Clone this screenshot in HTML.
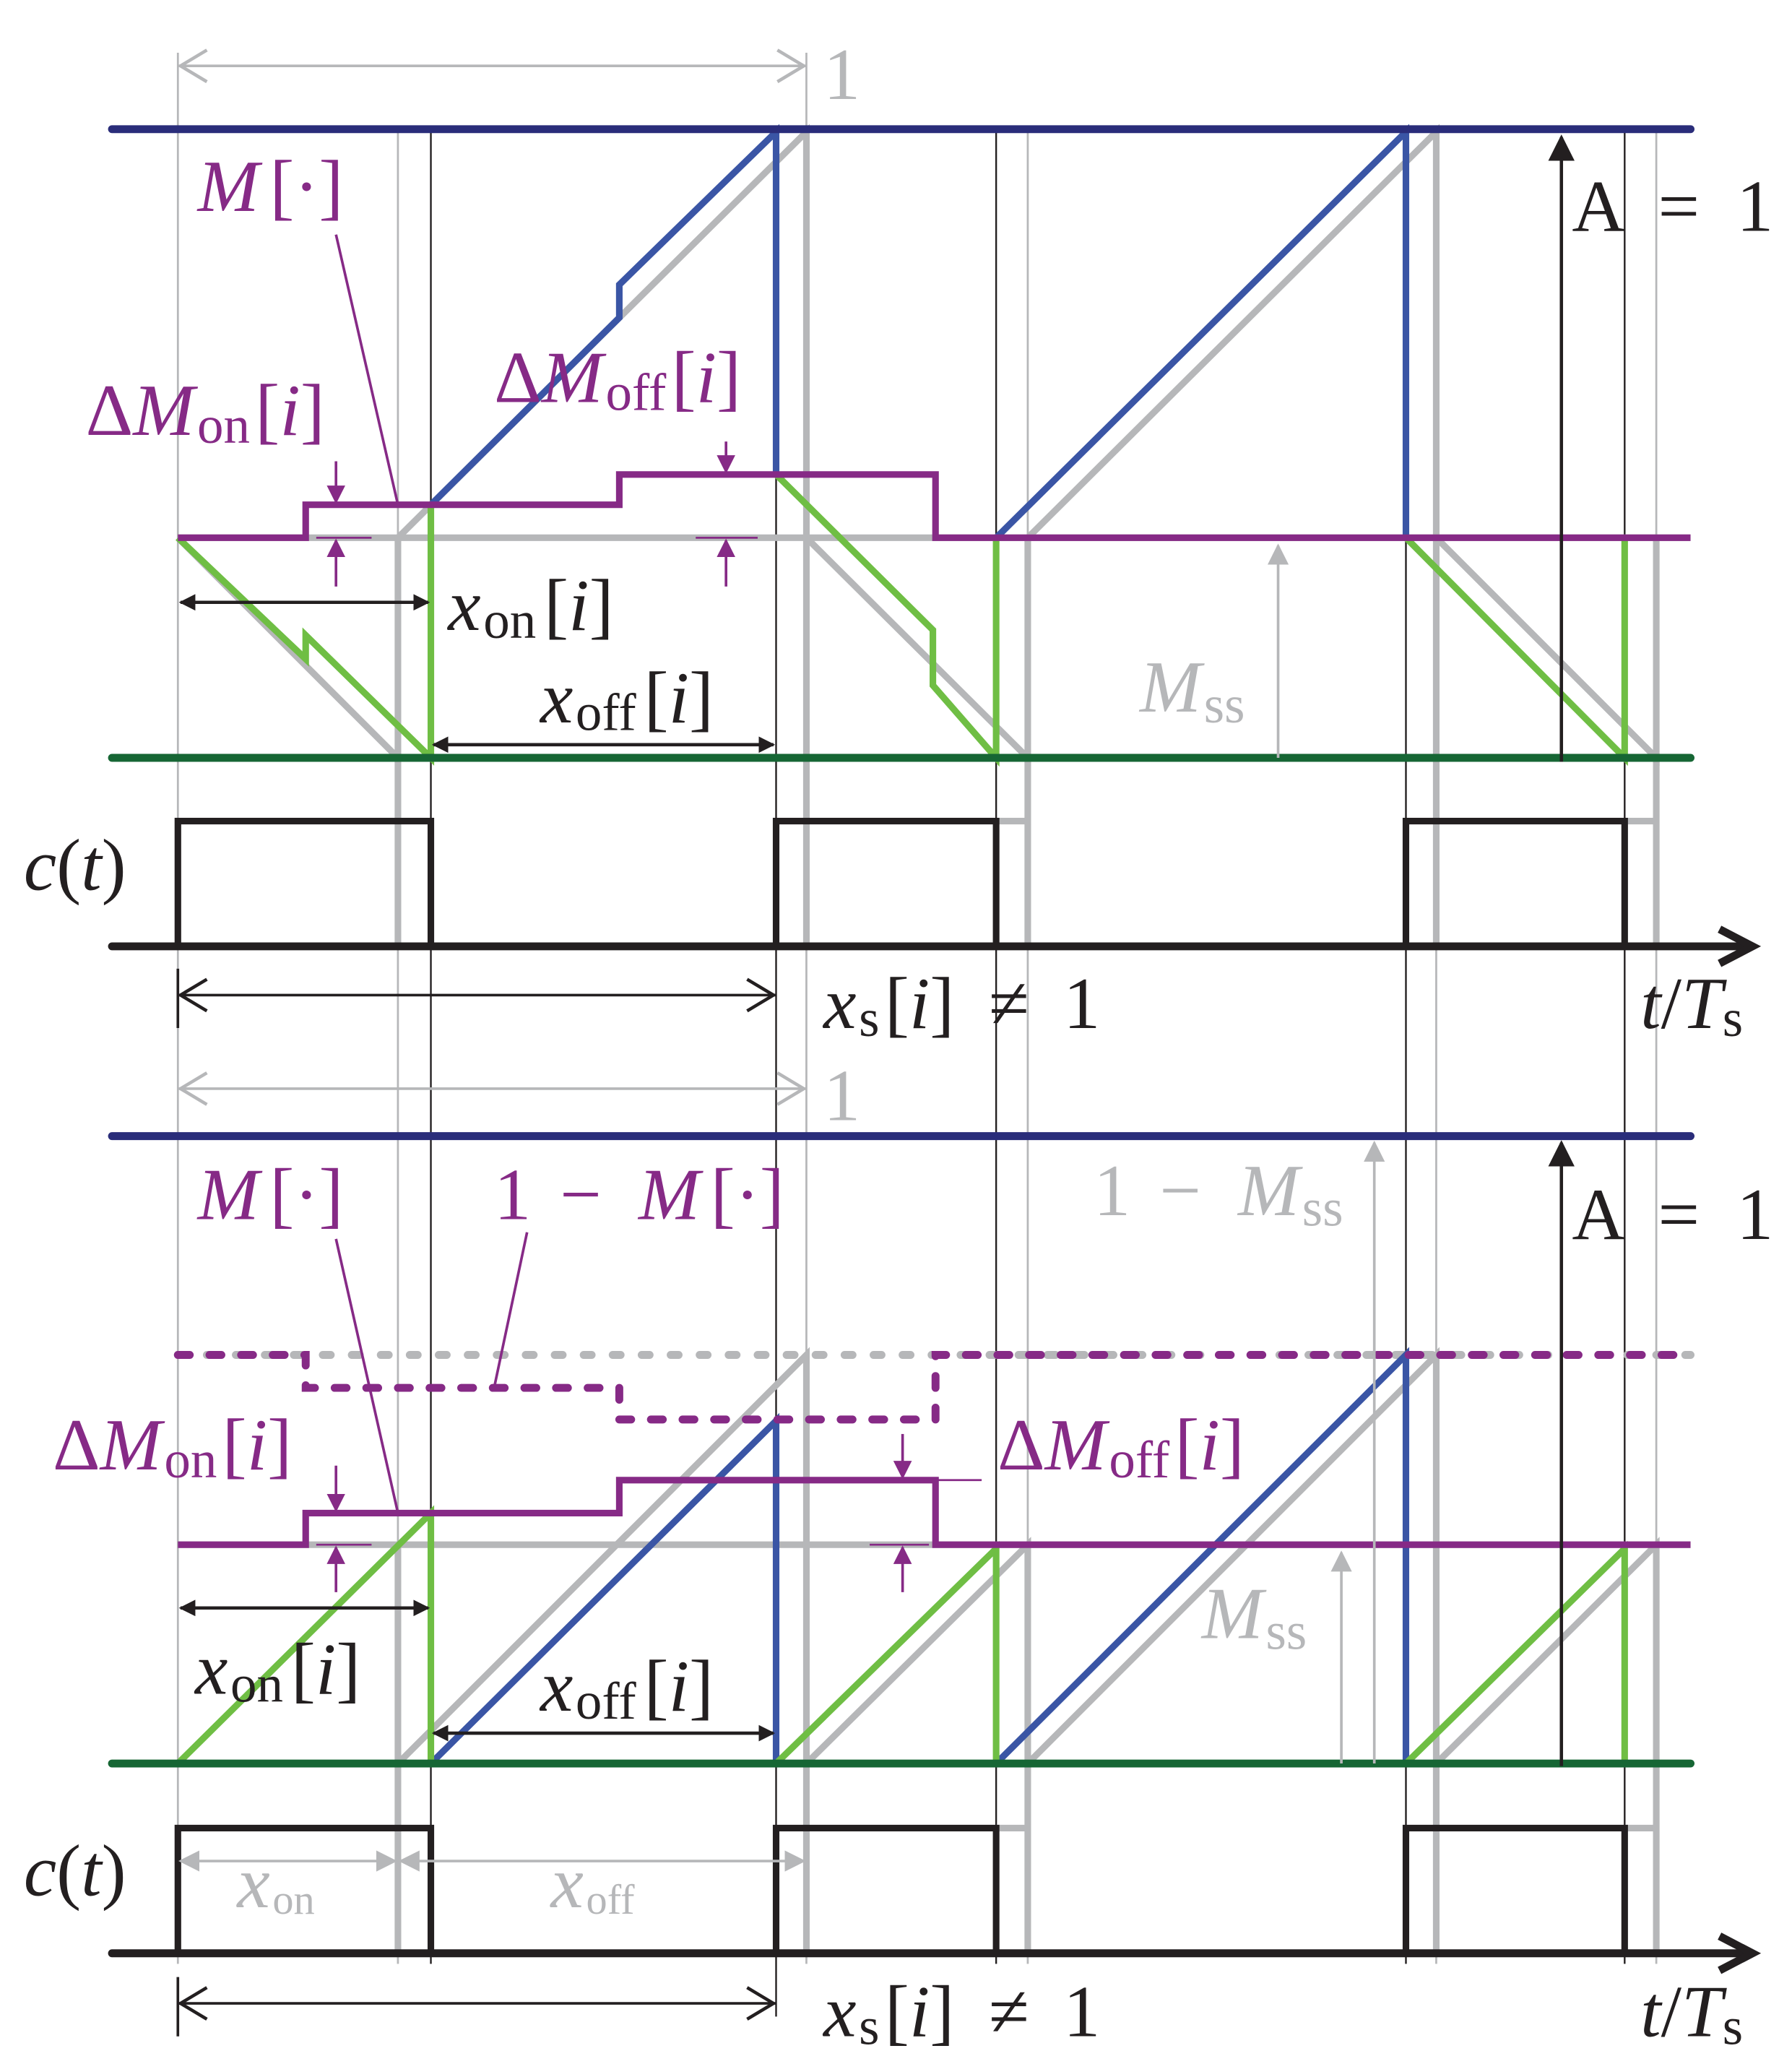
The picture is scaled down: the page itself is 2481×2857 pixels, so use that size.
<!DOCTYPE html>
<html><head><meta charset="utf-8"><style>
html,body{margin:0;padding:0;background:#fff}
svg{display:block}
text{font-family:"Liberation Serif",serif;font-size:56px}
.i{font-style:italic}
</style></head><body>
<svg width="2481" height="2857" viewBox="0 0 1360 1566" preserveAspectRatio="none" xmlns="http://www.w3.org/2000/svg">
<defs>
<marker id="ab" viewBox="0 0 10 10" refX="9" refY="5" markerWidth="5" markerHeight="5" orient="auto-start-reverse"><path d="M0,0 L10,5 L0,10 z" fill="#231f20"/></marker>
<marker id="ap" viewBox="0 0 10 10" refX="9" refY="5" markerWidth="7" markerHeight="7" orient="auto-start-reverse"><path d="M0,0 L10,5 L0,10 z" fill="#862a86"/></marker>
<marker id="ag" viewBox="0 0 10 10" refX="9" refY="5" markerWidth="8" markerHeight="8" orient="auto-start-reverse"><path d="M0,0 L10,5 L0,10 z" fill="#b6b7b9"/></marker>
<marker id="ak" viewBox="0 0 10 10" refX="9" refY="5" markerWidth="8" markerHeight="8" orient="auto-start-reverse"><path d="M0,0 L10,5 L0,10 z" fill="#231f20"/></marker>
</defs>
<g fill="none" stroke-linecap="butt">
<g stroke="#b6b7b9" stroke-width="1.5">
<line x1="135" y1="40" x2="135" y2="1490"/><line x1="302" y1="98" x2="302" y2="1490"/><line x1="612" y1="40" x2="612" y2="1490"/>
<line x1="780" y1="98" x2="780" y2="1490"/><line x1="1090" y1="98" x2="1090" y2="1490"/><line x1="1257" y1="98" x2="1257" y2="1490"/>
</g>
<g stroke="#231f20" stroke-width="1.3">
<line x1="327" y1="98" x2="327" y2="1490"/><line x1="589" y1="98" x2="589" y2="1530"/><line x1="756" y1="98" x2="756" y2="1490"/>
<line x1="1067" y1="98" x2="1067" y2="1490"/><line x1="1233" y1="98" x2="1233" y2="1490"/>
</g>

<line x1="135" y1="50" x2="612" y2="50" stroke="#b6b7b9" stroke-width="2"/>
<path d="M157,38 L137,50 L157,62 M590,38 L610,50 L590,62" stroke="#b6b7b9" stroke-width="2.5"/>
<g stroke="#b6b7b9" stroke-width="5">
<path d="M135,408 L1283,408"/>
<path d="M135,408 L302,575 M302,575 L302,408 L612,100 L612,718 M612,408 L780,575 L780,408 L1090,100 L1090,718 M1090,408 L1257,575 L1257,408"/>
<path d="M302,575 L302,718 M780,575 L780,718 M1257,575 L1257,718 M756,623 L780,623 M1233,623 L1257,623"/>
</g>
<g stroke="#3a55a5" stroke-width="5">
<path d="M327,383 L470,241 L470,216 L589,100 L589,360"/>
<path d="M756,408 L1067,100 L1067,408"/>
</g>
<g stroke="#6fbe44" stroke-width="5">
<path d="M135,408 L232,500 L232,482 L327,575 L327,383"/>
<path d="M589,360 L708,478 L708,520 L756,575 L756,408"/>
<path d="M1067,408 L1233,575 L1233,408"/>
</g>
<path d="M135,408 L232,408 L232,383 L470,383 L470,360 L710,360 L710,408 L1283,408" stroke="#862a86" stroke-width="5"/>
<line x1="85" y1="98" x2="1283" y2="98" stroke="#2a2d7a" stroke-width="6" stroke-linecap="round"/>
<line x1="85" y1="575" x2="1283" y2="575" stroke="#166634" stroke-width="6" stroke-linecap="round"/>
<path d="M135,718 L135,623 L327,623 L327,718 M589,718 L589,623 L756,623 L756,718 M1067,718 L1067,623 L1233,623 L1233,718" stroke="#231f20" stroke-width="5"/>
<line x1="85" y1="718" x2="1325" y2="718" stroke="#231f20" stroke-width="6" stroke-linecap="round"/>
<path d="M1305,705 L1330,718 L1305,731" stroke="#231f20" stroke-width="6"/>
<line x1="255" y1="178" x2="302" y2="383" stroke="#862a86" stroke-width="2"/>
<line x1="255" y1="350" x2="255" y2="381" stroke="#862a86" stroke-width="2" marker-end="url(#ap)"/>
<line x1="255" y1="445" x2="255" y2="410" stroke="#862a86" stroke-width="2" marker-end="url(#ap)"/>
<line x1="240" y1="408" x2="282" y2="408" stroke="#862a86" stroke-width="1.5"/>
<line x1="551" y1="335" x2="551" y2="358" stroke="#862a86" stroke-width="2" marker-end="url(#ap)"/>
<line x1="551" y1="445" x2="551" y2="410" stroke="#862a86" stroke-width="2" marker-end="url(#ap)"/>
<line x1="528" y1="408" x2="575" y2="408" stroke="#862a86" stroke-width="1.5"/>
<line x1="137" y1="457" x2="325" y2="457" stroke="#231f20" stroke-width="2.5" marker-start="url(#ab)" marker-end="url(#ab)"/>
<line x1="329" y1="565" x2="587" y2="565" stroke="#231f20" stroke-width="2.5" marker-start="url(#ab)" marker-end="url(#ab)"/>
<line x1="970" y1="575" x2="970" y2="414" stroke="#b6b7b9" stroke-width="2" marker-end="url(#ag)"/>
<line x1="1185" y1="578" x2="1185" y2="104" stroke="#231f20" stroke-width="2.5" marker-end="url(#ak)"/>
<line x1="135" y1="735" x2="135" y2="780" stroke="#231f20" stroke-width="2"/>
<line x1="135" y1="755" x2="589" y2="755" stroke="#231f20" stroke-width="2"/>
<path d="M157,743 L137,755 L157,767 M567,743 L587,755 L567,767" stroke="#231f20" stroke-width="2.5"/>

<line x1="135" y1="826" x2="612" y2="826" stroke="#b6b7b9" stroke-width="2"/>
<path d="M157,814 L137,826 L157,838 M590,814 L610,826 L590,838" stroke="#b6b7b9" stroke-width="2.5"/>
<g stroke="#b6b7b9" stroke-width="5">
<path d="M135,1172 L1283,1172"/>
<path d="M135,1028 L1283,1028" stroke-width="6" stroke-dasharray="6 16" stroke-linecap="round"/>
<path d="M302,1172 L302,1482 M302,1338 L612,1028 L612,1482 M612,1338 L780,1172 L780,1482 M780,1338 L1090,1028 L1090,1482 M1090,1338 L1257,1172 L1257,1482 M756,1387 L780,1387 M1233,1387 L1257,1387"/>
</g>
<g stroke="#3a55a5" stroke-width="5">
<path d="M327,1338 L589,1078 L589,1338"/>
<path d="M756,1338 L1067,1028 L1067,1338"/>
</g>
<g stroke="#6fbe44" stroke-width="5">
<path d="M135,1338 L327,1148 L327,1338"/>
<path d="M589,1338 L756,1175 L756,1338"/>
<path d="M1067,1338 L1233,1175 L1233,1338"/>
</g>
<path d="M135,1172 L232,1172 L232,1148 L470,1148 L470,1123 L710,1123 L710,1172 L1283,1172" stroke="#862a86" stroke-width="5"/>
<path d="M135,1028 L232,1028 L232,1053 L470,1053 L470,1077 L710,1077 L710,1028 L1283,1028" stroke="#862a86" stroke-width="6" stroke-dasharray="9 15" stroke-linecap="round"/>
<line x1="85" y1="862" x2="1283" y2="862" stroke="#2a2d7a" stroke-width="6" stroke-linecap="round"/>
<line x1="85" y1="1338" x2="1283" y2="1338" stroke="#166634" stroke-width="6" stroke-linecap="round"/>
<path d="M135,1482 L135,1387 L327,1387 L327,1482 M589,1482 L589,1387 L756,1387 L756,1482 M1067,1482 L1067,1387 L1233,1387 L1233,1482" stroke="#231f20" stroke-width="5"/>
<line x1="85" y1="1482" x2="1325" y2="1482" stroke="#231f20" stroke-width="6" stroke-linecap="round"/>
<path d="M1305,1469 L1330,1482 L1305,1495" stroke="#231f20" stroke-width="6"/>
<line x1="255" y1="940" x2="302" y2="1148" stroke="#862a86" stroke-width="2"/>
<line x1="400" y1="935" x2="375" y2="1053" stroke="#862a86" stroke-width="2"/>
<line x1="255" y1="1112" x2="255" y2="1146" stroke="#862a86" stroke-width="2" marker-end="url(#ap)"/>
<line x1="255" y1="1208" x2="255" y2="1174" stroke="#862a86" stroke-width="2" marker-end="url(#ap)"/>
<line x1="240" y1="1172" x2="282" y2="1172" stroke="#862a86" stroke-width="1.5"/>
<line x1="685" y1="1088" x2="685" y2="1121" stroke="#862a86" stroke-width="2" marker-end="url(#ap)"/>
<line x1="685" y1="1208" x2="685" y2="1174" stroke="#862a86" stroke-width="2" marker-end="url(#ap)"/>
<line x1="660" y1="1172" x2="705" y2="1172" stroke="#862a86" stroke-width="1.5"/>
<line x1="710" y1="1123" x2="745" y2="1123" stroke="#862a86" stroke-width="1.5"/>
<line x1="137" y1="1220" x2="325" y2="1220" stroke="#231f20" stroke-width="2.5" marker-start="url(#ab)" marker-end="url(#ab)"/>
<line x1="329" y1="1315" x2="587" y2="1315" stroke="#231f20" stroke-width="2.5" marker-start="url(#ab)" marker-end="url(#ab)"/>
<line x1="1018" y1="1338" x2="1018" y2="1178" stroke="#b6b7b9" stroke-width="2" marker-end="url(#ag)"/>
<line x1="1043" y1="1338" x2="1043" y2="867" stroke="#b6b7b9" stroke-width="2" marker-end="url(#ag)"/>
<line x1="1185" y1="1340" x2="1185" y2="867" stroke="#231f20" stroke-width="2.5" marker-end="url(#ak)"/>
<line x1="137" y1="1412" x2="300" y2="1412" stroke="#b6b7b9" stroke-width="2" marker-start="url(#ag)" marker-end="url(#ag)"/>
<line x1="304" y1="1412" x2="610" y2="1412" stroke="#b6b7b9" stroke-width="2" marker-start="url(#ag)" marker-end="url(#ag)"/>
<line x1="135" y1="1500" x2="135" y2="1545" stroke="#231f20" stroke-width="2"/>
<line x1="135" y1="1520" x2="589" y2="1520" stroke="#231f20" stroke-width="2"/>
<path d="M157,1508 L137,1520 L157,1532 M567,1508 L587,1520 L567,1532" stroke="#231f20" stroke-width="2.5"/>
</g>

<g fill="#b6b7b9"><text x="625" y="75">1</text><text x="625" y="850">1</text>
<text x="865" y="540"><tspan class="i">M</tspan><tspan font-size="40" dx="2" dy="8">ss</tspan></text>
<text x="830" y="922" word-spacing="8">1 − <tspan class="i" dx="6">M</tspan><tspan font-size="40" dx="2" dy="8">ss</tspan></text>
<text x="912" y="1243"><tspan class="i">M</tspan><tspan font-size="40" dx="2" dy="8">ss</tspan></text>
<text x="180" y="1447" font-size="42"><tspan class="i">x</tspan><tspan font-size="32" dx="2" dy="5">on</tspan></text>
<text x="418" y="1447" font-size="42"><tspan class="i">x</tspan><tspan font-size="32" dx="2" dy="5">off</tspan></text>
</g>
<g fill="#862a86">
<text x="150" y="160"><tspan class="i">M</tspan><tspan dx="8">[·]</tspan></text>
<text x="65" y="330">Δ<tspan class="i">M</tspan><tspan font-size="40" dx="2" dy="6">on</tspan><tspan dy="-6" dx="4">[<tspan class="i">i</tspan>]</tspan></text>
<text x="375" y="305">Δ<tspan class="i">M</tspan><tspan font-size="40" dx="2" dy="6">off</tspan><tspan dy="-6" dx="4">[<tspan class="i">i</tspan>]</tspan></text>
<text x="150" y="925"><tspan class="i">M</tspan><tspan dx="8">[·]</tspan></text>
<text x="375" y="925" word-spacing="8">1 − <tspan class="i" dx="6">M</tspan><tspan dx="8">[·]</tspan></text>
<text x="40" y="1115">Δ<tspan class="i">M</tspan><tspan font-size="40" dx="2" dy="6">on</tspan><tspan dy="-6" dx="4">[<tspan class="i">i</tspan>]</tspan></text>
<text x="757" y="1115">Δ<tspan class="i">M</tspan><tspan font-size="40" dx="2" dy="6">off</tspan><tspan dy="-6" dx="4">[<tspan class="i">i</tspan>]</tspan></text>
</g>
<g fill="#231f20">
<text x="340" y="478"><tspan class="i">x</tspan><tspan font-size="40" dx="2" dy="6">on</tspan><tspan dy="-6" dx="6">[<tspan class="i">i</tspan>]</tspan></text>
<text x="410" y="548"><tspan class="i">x</tspan><tspan font-size="40" dx="2" dy="6">off</tspan><tspan dy="-6" dx="6">[<tspan class="i">i</tspan>]</tspan></text>
<text x="1193" y="175" word-spacing="14">A = 1</text>
<text x="1193" y="940" word-spacing="14">A = 1</text>
<text x="18" y="675"><tspan class="i">c</tspan>(<tspan class="i">t</tspan>)</text>
<text x="18" y="1438"><tspan class="i">c</tspan>(<tspan class="i">t</tspan>)</text>
<text x="625" y="780" word-spacing="12"><tspan class="i">x</tspan><tspan font-size="40" dx="2" dy="6">s</tspan><tspan dy="-6" dx="4">[<tspan class="i">i</tspan>] ≠ 1</tspan></text>
<text x="625" y="1545" word-spacing="12"><tspan class="i">x</tspan><tspan font-size="40" dx="2" dy="6">s</tspan><tspan dy="-6" dx="4">[<tspan class="i">i</tspan>] ≠ 1</tspan></text>
<text x="1245" y="780"><tspan class="i">t</tspan>/<tspan class="i">T</tspan><tspan font-size="40" dy="6">s</tspan></text>
<text x="1245" y="1545"><tspan class="i">t</tspan>/<tspan class="i">T</tspan><tspan font-size="40" dy="6">s</tspan></text>
<text x="148" y="1285"><tspan class="i">x</tspan><tspan font-size="40" dx="2" dy="6">on</tspan><tspan dy="-6" dx="6">[<tspan class="i">i</tspan>]</tspan></text>
<text x="410" y="1298"><tspan class="i">x</tspan><tspan font-size="40" dx="2" dy="6">off</tspan><tspan dy="-6" dx="6">[<tspan class="i">i</tspan>]</tspan></text>
</g>
</svg>
</body></html>
